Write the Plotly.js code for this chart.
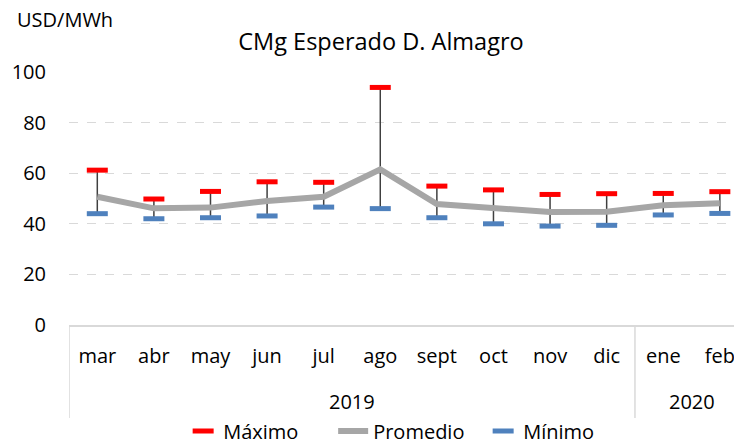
<!DOCTYPE html>
<html>
<head>
<meta charset="utf-8">
<script src="https://cdn.plot.ly/plotly-3.0.1.min.js"></script>
<style>
  html, body { margin: 0; padding: 0; background: #fff; }
  #chart { width: 734px; height: 444px; }
</style>
</head>
<body>
<div id="chart"></div>
<script>
  const years  = ['2019', '2019', '2019', '2019', '2019', '2019', '2019', '2019', '2019', '2019', '2020', '2020'];
  const months = ['mar', 'abr', 'may', 'jun', 'jul', 'ago', 'sept', 'oct', 'nov', 'dic', 'ene', 'feb'];

  const maximo   = [61.2, 49.8, 52.8, 56.6, 56.4, 93.9, 54.9, 53.4, 51.6, 51.9, 52.0, 52.7];
  const promedio = [50.7, 46.1, 46.4, 49.0, 50.7, 61.5, 47.8, 46.2, 44.7, 44.8, 47.3, 48.1];
  const minimo   = [44.0, 42.0, 42.4, 43.1, 46.6, 46.0, 42.4, 40.0, 39.1, 39.4, 43.5, 44.1];

  const yTicks = [0, 20, 40, 60, 80, 100];

  const FONT = '"Open Sans", sans-serif';
  const GRID = '#d9d9d9';

  // plot box in px: top 72, bottom 325 -> helper for paper y below the axis
  const plotH = 444 - 72 - 119;
  const below = px => -px / plotH;

  // vertical whisker from the max marker down to the min marker
  const spread = maximo.map((v, i) => v - minimo[i]);

  // year groups: label at group centre, divider at group start
  const groups = [];
  years.forEach((y, i) => {
    if (!groups.length || groups[groups.length - 1].year !== y) groups.push({ year: y, start: i, end: i });
    else groups[groups.length - 1].end = i;
  });

  const yearLabels = groups.map(g => ({
    text: g.year, showarrow: false,
    xref: 'x', x: (g.start + g.end) / 2,
    yref: 'paper', y: below(76), yanchor: 'middle',
    font: { family: FONT, size: 20, color: '#000' }
  }));

  const dividers = groups.map(g => ({
    type: 'line', xref: 'x', x0: g.start - 0.5, x1: g.start - 0.5,
    yref: 'paper', y0: 0, y1: below(93),
    line: { color: GRID, width: 1.5 }
  }));

  const traces = [
    {
      name: 'Máximo', x: months, y: maximo, type: 'scatter', mode: 'markers',
      marker: { symbol: 'line-ew', size: 15, color: '#ff0000', line: { color: '#ff0000', width: 5 } },
      error_y: {
        type: 'data', symmetric: false,
        array: maximo.map(() => 0), arrayminus: spread,
        color: '#404040', thickness: 1.5, width: 0
      }
    },
    {
      name: 'Promedio', x: months, y: promedio, type: 'scatter', mode: 'lines',
      line: { color: '#a6a6a6', width: 6 }
    },
    {
      name: 'Mínimo', x: months, y: minimo, type: 'scatter', mode: 'markers',
      marker: { symbol: 'line-ew', size: 15, color: '#4f81bd', line: { color: '#4f81bd', width: 5 } }
    }
  ];

  const layout = {
    width: 734, height: 444,
    margin: { l: 69, r: 0, t: 72, b: 119 },
    paper_bgcolor: '#fff', plot_bgcolor: '#fff',
    font: { family: FONT, size: 20, color: '#000' },
    title: {
      text: 'CMg Esperado D. Almagro',
      font: { family: FONT, size: 23.5, color: '#000' },
      xref: 'container', x: 381 / 734, xanchor: 'center',
      yref: 'container', y: 1 - 42 / 444, yanchor: 'middle'
    },
    xaxis: {
      type: 'category',
      categoryorder: 'array', categoryarray: months,
      range: [-0.5, 11.25],
      showgrid: false,
      showline: true, linecolor: GRID, linewidth: 1.5,
      ticks: '', ticklabelstandoff: 12,
      tickfont: { family: FONT, size: 20, color: '#000' },
      fixedrange: true
    },
    yaxis: {
      range: [0, 100],
      tickvals: yTicks,
      ticktext: yTicks.map(String),
      showgrid: true, gridcolor: GRID, griddash: 'dash', gridwidth: 1,
      zeroline: false, showline: false,
      ticks: '', ticklabelstandoff: 22,
      tickfont: { family: FONT, size: 20, color: '#000' },
      fixedrange: true
    },
    showlegend: true,
    legend: {
      orientation: 'h',
      xref: 'paper', x: 0.51, xanchor: 'center',
      yref: 'container', y: 1 - 431 / 444, yanchor: 'middle',
      entrywidth: 105,
      font: { family: FONT, size: 20, color: '#000' },
      bgcolor: 'rgba(0,0,0,0)'
    },
    shapes: dividers,
    annotations: [{
      text: 'USD/MWh', showarrow: false,
      xref: 'paper', yref: 'paper',
      x: (15 - 69) / 665, xanchor: 'left',
      y: (325 - 19) / plotH, yanchor: 'middle',
      font: { family: FONT, size: 20, color: '#000' }
    }].concat(yearLabels)
  };

  Plotly.newPlot('chart', traces, layout, { displayModeBar: false, staticPlot: true });
</script>
</body>
</html>
